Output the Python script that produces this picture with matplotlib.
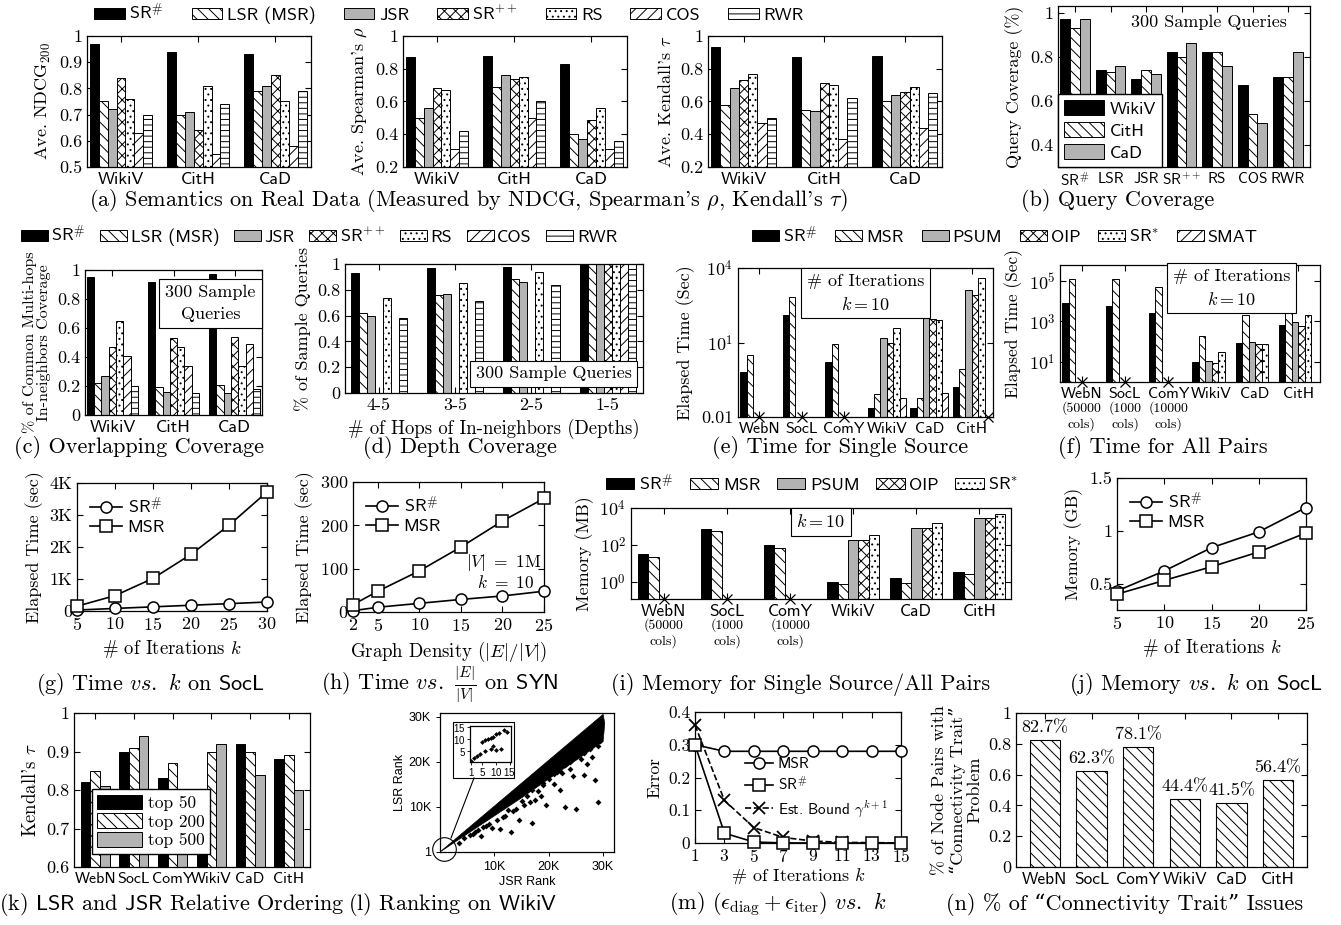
import numpy as np
import matplotlib
matplotlib.use('Agg')
import matplotlib.pyplot as plt
from matplotlib.patches import Patch, Rectangle
from matplotlib.lines import Line2D
from matplotlib.ticker import FuncFormatter, NullLocator

plt.rcParams['font.family'] = ['cmr10', 'DejaVu Serif']
plt.rcParams['mathtext.fontset'] = 'cm'
plt.rcParams['axes.formatter.use_mathtext'] = True
plt.rcParams['axes.unicode_minus'] = False
plt.rcParams['hatch.linewidth'] = 0.7
plt.rcParams['axes.linewidth'] = 0.9

SANS = 'cmss10'
GRAY = '#b3b3b3'

# ---------------- data ----------------
methods7 = [r'$\mathsf{SR}^{\#}$', 'LSR (MSR)', 'JSR', r'$\mathsf{SR}^{++}$', 'RS', 'COS', 'RWR']
real_graphs = ['WikiV', 'CitH', 'CaD']

# rows: SR#, LSR, JSR, SR++, RS, COS, RWR   cols: WikiV, CitH, CaD
ndcg = [[0.97, 0.94, 0.93], [0.75, 0.70, 0.79], [0.72, 0.71, 0.81], [0.84, 0.64, 0.85],
        [0.76, 0.81, 0.75], [0.63, 0.55, 0.58], [0.70, 0.74, 0.79]]
spearman = [[0.87, 0.88, 0.83], [0.50, 0.69, 0.40], [0.56, 0.76, 0.37], [0.68, 0.74, 0.49],
            [0.67, 0.75, 0.56], [0.31, 0.50, 0.31], [0.42, 0.60, 0.36]]
kendall = [[0.93, 0.87, 0.88], [0.58, 0.55, 0.60], [0.68, 0.54, 0.64], [0.73, 0.71, 0.66],
           [0.77, 0.70, 0.69], [0.47, 0.37, 0.44], [0.50, 0.62, 0.65]]

query_methods = [r'$\mathsf{SR}^{\#}$', 'LSR', 'JSR', r'$\mathsf{SR}^{++}$', 'RS', 'COS', 'RWR']
query_graphs = ['WikiV', 'CitH', 'CaD']
query_cov = [[0.97, 0.74, 0.70, 0.82, 0.82, 0.67, 0.71],
             [0.93, 0.73, 0.74, 0.80, 0.82, 0.54, 0.71],
             [0.97, 0.76, 0.72, 0.86, 0.76, 0.50, 0.82]]

overlap = [[0.95, 0.92, 0.97], [0.22, 0.19, 0.21], [0.27, 0.16, 0.15], [0.47, 0.53, 0.54],
           [0.65, 0.47, 0.34], [0.41, 0.34, 0.49], [0.20, 0.15, 0.18]]

depths = ['4-5', '3-5', '2-5', '1-5']
depth_cov = [[0.93, 0.97, 0.98, 1.0], [0.62, 0.76, 0.88, 1.0], [0.60, 0.77, 0.86, 1.0],
             [0.0, 0.0, 0.0, 1.0], [0.74, 0.85, 0.94, 1.0], [0.0, 0.0, 0.0, 1.0],
             [0.58, 0.71, 0.84, 1.0]]

nan = np.nan
algos6 = [r'$\mathsf{SR}^{\#}$', 'MSR', 'PSUM', 'OIP', r'$\mathsf{SR}^{*}$', 'SMAT']
all_graphs = ['WebN', 'SocL', 'ComY', 'WikiV', 'CaD', 'CitH']
col_notes = ['(50000\ncols)', '(1000\ncols)', '(10000\ncols)']
# rows: SR#, MSR, PSUM, OIP, SR*, SMAT   (nan = not finished, marked with x)
single_time = [[0.62, 130, 1.6, 0.023, 0.023, 0.16],
               [3.2, 690, 8.7, 0.085, 0.06, 0.85],
               [nan, nan, nan, 15, 120, 1300],
               [nan, nan, nan, 10, 90, 800],
               [nan, nan, nan, 40, 80, 4000],
               [nan, nan, nan, 0.06, 0.093, nan]]
pairs_time = [[8000, 5600, 2500, 10, 90, 700],
              [1.3e5, 1.3e5, 5e4, 200, 2000, 1.6e4],
              [nan, nan, nan, 11, 100, 900],
              [nan, nan, nan, 9, 80, 600],
              [nan, nan, nan, 30, 75, 2000],
              [nan, nan, nan, nan, nan, nan]]
memory = [[34, 700, 100, 1.0, 1.6, 3.6],
          [22, 540, 66, 0.75, 0.9, 2.7],
          [nan, nan, nan, 175, 800, 2700],
          [nan, nan, nan, 175, 850, 2700],
          [nan, nan, nan, 340, 1600, 5000]]

iters_g = [5, 10, 15, 20, 25, 30]
time_k_sr = [30, 80, 130, 180, 230, 280]
time_k_msr = [150, 480, 1020, 1770, 2680, 3720]

density = [2, 5, 10, 15, 20, 25]
time_d_sr = [3, 11, 20, 29, 37, 48]
time_d_msr = [17, 48, 95, 150, 210, 262]

iters_j = [5, 10, 15, 20, 25]
mem_k_sr = [0.43, 0.62, 0.84, 0.99, 1.22]
mem_k_msr = [0.40, 0.53, 0.66, 0.80, 0.98]

tops = ['top 50', 'top 200', 'top 500']
rel_order = [[0.82, 0.90, 0.83, 0.77, 0.92, 0.88],
             [0.85, 0.91, 0.87, 0.90, 0.90, 0.89],
             [0.81, 0.94, 0.79, 0.92, 0.84, 0.80]]

# ranking scatter on WikiV: dense band along the diagonal + scattered pairs
band_jsr = [1, 5000, 10000, 15000, 20000, 25000, 30000, 30300, 30000, 1]
band_lsr = [1, 4000, 8000, 12000, 16200, 20300, 24500, 28500, 30500, 1]
out_jsr = [3500, 4500, 5500, 6000, 7000, 7500, 8000, 9000, 9500, 10500, 11000, 12000, 12500,
           13000, 14000, 14500, 15500, 16000, 17000, 17500, 18000, 19000, 19500, 20000, 21000,
           22000, 22500, 23000, 24000, 24500, 25000, 26000, 26500, 27000, 27500, 28500, 29000,
           29500, 6500, 8500, 11500, 13500, 16500, 18500, 15000, 17000, 19000, 21000, 22000,
           23000, 24000, 25500, 26500, 27500, 28000, 29000, 18000, 20500, 23500, 21500]
out_lsr = [2000, 3200, 3800, 4000, 4800, 3600, 5500, 6200, 5400, 7000, 5200, 8000, 9200,
           4500, 9500, 7200, 10500, 12500, 6500, 11500, 13500, 14800, 10500, 16200, 15000,
           13800, 17500, 10000, 18500, 16800, 9500, 20500, 17000, 19500, 23000, 16000, 11000,
           24500, 4400, 5800, 7800, 9000, 11000, 12300, 11200, 13800, 15200, 17200, 18000,
           19200, 20000, 21500, 22000, 22800, 21000, 23500, 16500, 18800, 21000, 17800]
inset_jsr = [1, 2, 3, 4, 5, 6, 7, 8, 9, 10, 11, 13, 14, 6, 8, 9, 10, 12]
inset_lsr = [1, 2, 3, 4, 9, 9.5, 10, 10.5, 11, 12, 12.5, 14, 13, 5, 6, 7, 5.5, 6]

iters_m = [1, 3, 5, 7, 9, 11, 13, 15]
err_msr = [0.30, 0.28, 0.28, 0.28, 0.28, 0.28, 0.28, 0.28]
err_sr = [0.30, 0.03, 0.003, 0.0003, 0.0, 0.0, 0.0, 0.0]
err_bound = [0.36, 0.13, 0.047, 0.017, 0.006, 0.002, 0.001, 0.0003]

trait = [0.827, 0.623, 0.781, 0.444, 0.415, 0.564]

# ---------------- styles ----------------
ST7 = [('black', None), ('white', '\\\\\\'), (GRAY, None), ('white', 'xxx'),
       ('white', '...'), ('white', '///'), ('white', '---')]
ST6 = ST7[:6]
ST3 = [('black', None), ('white', '\\\\\\'), (GRAY, None)]

W, H = 1341, 925
fig = plt.figure(figsize=(W / 100, H / 100), dpi=100)
fig.patch.set_facecolor('white')

TICK = 13
CAP = 16


def add_ax(l, t, r, b):
    return fig.add_axes([l / W, 1 - b / H, (r - l) / W, (b - t) / H])


def frame(ax, fs=TICK):
    ax.tick_params(which='both', direction='in', top=True, right=True,
                   length=4, width=0.8, labelsize=fs)


def plain(ax):
    ax.yaxis.set_major_formatter(FuncFormatter(lambda v, _: '%g' % v))


def grouped_bars(ax, rows, styles, bw, base=0.0, cross=False, cross_single=True):
    rows = np.array(rows, dtype=float)
    nser, ngrp = rows.shape
    for s in range(nser):
        xs = np.arange(ngrp) + (s - (nser - 1) / 2) * bw
        ok = ~np.isnan(rows[s])
        fc, hatch = styles[s]
        ax.bar(xs[ok], rows[s][ok] - base, bw, bottom=base, facecolor=fc, hatch=hatch,
               edgecolor='black', linewidth=0.7, zorder=2)
    if cross:
        for g in range(ngrp):
            miss = np.where(np.isnan(rows[:, g]))[0]
            if len(miss) > 1:
                xm = g
            elif len(miss) == 1 and cross_single:
                xm = g + (miss[0] - (nser - 1) / 2) * bw
            else:
                continue
            ax.plot([xm], [base], 'x', color='black', ms=7, mew=0.9, clip_on=False, zorder=5)


def cat_ticks(ax, labels, fs=12):
    # call after frame(): tick_params would reset the label size
    ax.set_xticks(range(len(labels)))
    ax.set_xticklabels(labels, fontfamily=SANS, fontsize=fs)


def col_note(ax):
    for gi, note in enumerate(col_notes):
        ax.annotate(note, xy=(gi, 0), xycoords=('data', 'axes fraction'), xytext=(0, -14),
                    textcoords='offset points', ha='center', va='top', fontsize=10, linespacing=1.25)


def handles(styles):
    return [Patch(facecolor=fc, edgecolor='black', hatch=h, linewidth=0.7) for fc, h in styles]


def caption(x, y, s, fs=CAP):
    fig.text(x / W, 1 - y / H, s, ha='center', va='center', fontsize=fs)


boxprops = dict(boxstyle='square,pad=0.3', fc='white', ec='black', lw=0.8)
leg_font = {'family': SANS, 'size': 13}

# ---------------- row 1 ----------------
fig.legend(handles(ST7), methods7, loc='center', bbox_to_anchor=(449 / W, 1 - 13 / H), ncol=7,
           frameon=False, prop=leg_font, handlelength=1.7, handleheight=0.55,
           handletextpad=0.25, columnspacing=1.55, borderpad=0, borderaxespad=0)

for (l, r), vals, ylab, lo in [((87, 311), ndcg, r'Ave. NDCG$_{200}$', 0.5),
                               ((403, 627), spearman, r"Ave. Spearman's $\rho$", 0.2),
                               ((708, 942), kendall, r"Ave. Kendall's $\tau$", 0.2)]:
    ax = add_ax(l, 36, r, 167)
    grouped_bars(ax, vals, ST7, 0.115)
    ax.set_xlim(-0.44, 2.46)
    ax.set_ylim(lo, 1.0)
    ax.set_yticks(np.arange(lo, 1.001, 0.1 if lo == 0.5 else 0.2))
    plain(ax)
    frame(ax)
    cat_ticks(ax, real_graphs, fs=13)
    ax.set_ylabel(ylab, fontsize=13)

ax = add_ax(1058, 6, 1310, 167)
grouped_bars(ax, query_cov, ST3, 0.28)
ax.set_xlim(-0.48, 6.62)
ax.set_ylim(0.3, 1.03)
ax.set_yticks([0.4, 0.6, 0.8, 1.0])
plain(ax)
frame(ax)
cat_ticks(ax, query_methods, fs=11)
ax.set_ylabel('Query Coverage (%)', fontsize=13)
ax.text(0.6, 0.9, '300 Sample Queries', transform=ax.transAxes, ha='center', va='center', fontsize=13)
ax.legend(handles(ST3), query_graphs, loc='lower left', prop=leg_font,
          fancybox=False, edgecolor='black', framealpha=1, borderaxespad=0.0,
          handlelength=2.2, handleheight=0.85, handletextpad=0.3, borderpad=0.35, labelspacing=0.3)

caption(468, 200, r"(a) Semantics on Real Data (Measured by NDCG, Spearman's $\rho$, Kendall's $\tau$)")
caption(1118, 200, '(b) Query Coverage')

# ---------------- row 2 ----------------
fig.legend(handles(ST7), methods7, loc='center', bbox_to_anchor=(319 / W, 1 - 235 / H), ncol=7,
           frameon=False, prop=leg_font, handlelength=1.5, handleheight=0.55,
           handletextpad=0.2, columnspacing=0.8, borderpad=0, borderaxespad=0)
fig.legend(handles(ST6), algos6, loc='center', bbox_to_anchor=(1005 / W, 1 - 235 / H), ncol=6,
           frameon=False, prop=leg_font, handlelength=1.5, handleheight=0.55,
           handletextpad=0.2, columnspacing=1.0, borderpad=0, borderaxespad=0)

ax = add_ax(85, 270, 262, 415)
grouped_bars(ax, overlap, ST7, 0.12)
ax.set_xlim(-0.45, 2.45)
ax.set_ylim(0, 1)
ax.set_yticks(np.arange(0, 1.01, 0.2))
plain(ax)
frame(ax)
cat_ticks(ax, real_graphs, fs=13)
ax.set_ylabel('% of Common Multi-hops\nIn-neighbors Coverage', fontsize=11.5, linespacing=1.0)
ax.text(0.71, 0.77, '300 Sample\nQueries', transform=ax.transAxes, ha='center', va='center',
        fontsize=13, linespacing=1.5, bbox=dict(boxstyle='square,pad=0.35', fc='white', ec='black', lw=0.8),
        zorder=6)

ax = add_ax(345, 264, 643, 393)
grouped_bars(ax, depth_cov, ST7, 0.105)
ax.set_xlim(-0.44, 3.46)
ax.set_ylim(0, 1)
ax.set_yticks(np.arange(0, 1.01, 0.2))
plain(ax)
ax.set_xticks(range(len(depths)))
ax.set_xticklabels(depths)
frame(ax)
ax.set_ylabel('% of Sample Queries', fontsize=13)
ax.set_xlabel('# of Hops of In-neighbors (Depths)', fontsize=13.5, labelpad=4)
ax.text(0.70, 0.15, '300 Sample Queries', transform=ax.transAxes, ha='center', va='center',
        fontsize=13, bbox=boxprops, zorder=6)

ax = add_ax(738, 268, 993, 417)
ax.set_yscale('log')
grouped_bars(ax, single_time, ST6, 0.15, base=0.01, cross=True)
ax.set_xlim(-0.5, 5.5)
ax.set_ylim(0.01, 1e4)
ax.set_yticks([0.01, 10, 1e4])
ax.set_yticklabels(['0.01', '$10^{1}$', '$10^{4}$'])
ax.yaxis.set_minor_locator(NullLocator())
frame(ax)
cat_ticks(ax, all_graphs, fs=11.5)
ax.set_ylabel('Elapsed Time (Sec)', fontsize=13)
ax.text(0.50, 0.83, '# of Iterations\n$k = 10$', transform=ax.transAxes, ha='center', va='center',
        fontsize=13, linespacing=1.5, bbox=boxprops, zorder=6)

ax = add_ax(1060, 265, 1320, 382)
ax.set_yscale('log')
grouped_bars(ax, pairs_time, ST6, 0.15, base=1, cross=True, cross_single=False)
ax.set_xlim(-0.5, 5.5)
ax.set_ylim(1, 10 ** 5.8)
ax.set_yticks([10, 1e3, 1e5])
ax.set_yticklabels(['$10^{1}$', '$10^{3}$', '$10^{5}$'])
ax.yaxis.set_minor_locator(NullLocator())
frame(ax)
cat_ticks(ax, all_graphs, fs=11.5)
col_note(ax)
ax.set_ylabel('Elapsed Time (Sec)', fontsize=12.5)
ax.text(0.66, 0.8, '# of Iterations\n$k = 10$', transform=ax.transAxes, ha='center', va='center',
        fontsize=13, linespacing=1.5, bbox=boxprops, zorder=6)

caption(139, 448, '(c) Overlapping Coverage')
caption(460, 448, '(d) Depth Coverage')
caption(840, 448, '(e) Time for Single Source')
caption(1163, 448, '(f) Time for All Pairs')

# ---------------- row 3 ----------------
line_leg = dict(loc='upper left', frameon=False, prop=leg_font,
                handlelength=1.8, handletextpad=0.3, labelspacing=0.2, borderaxespad=0.3)
mk = dict(color='black', lw=1.2, ms=8, mfc='white', mew=1.1, clip_on=False, zorder=4)

ax = add_ax(77, 483, 267, 611)
ax.plot(iters_g, time_k_sr, marker='o', label=r'$\mathsf{SR}^{\#}$', **mk)
ax.plot(iters_g, time_k_msr, marker='s', label='MSR', **mk)
ax.set_xlim(5, 30)
ax.set_ylim(0, 4000)
ax.set_xticks(iters_g)
ax.set_yticks([0, 1000, 2000, 3000, 4000])
ax.set_yticklabels(['0', '1K', '2K', '3K', '4K'])
frame(ax)
ax.legend(**line_leg)
ax.set_ylabel('Elapsed Time (sec)', fontsize=13)
ax.set_xlabel(r'# of Iterations $k$', fontsize=13.5)

ax = add_ax(353, 482, 544, 612)
ax.plot(density, time_d_sr, marker='o', label=r'$\mathsf{SR}^{\#}$', **mk)
ax.plot(density, time_d_msr, marker='s', label='MSR', **mk)
ax.set_xlim(2, 25)
ax.set_ylim(0, 300)
ax.set_xticks(density)
ax.set_yticks([0, 100, 200, 300])
frame(ax)
ax.legend(**line_leg)
ax.text(0.985, 0.38, r'$|V|\ =\ 1\mathrm{M}$', transform=ax.transAxes, ha='right', va='center', fontsize=12.5)
ax.text(0.95, 0.23, r'$k\ =\ 10$', transform=ax.transAxes, ha='right', va='center', fontsize=12.5)
ax.set_ylabel('Elapsed Time (sec)', fontsize=13)
ax.set_xlabel(r'Graph Density ($|E|/|V|$)', fontsize=13.5)

fig.legend(handles(ST6[:5]), algos6[:5], loc='center', bbox_to_anchor=(812 / W, 1 - 483 / H), ncol=5,
           frameon=False, prop=leg_font, handlelength=1.6, handleheight=0.55,
           handletextpad=0.25, columnspacing=0.9, borderpad=0, borderaxespad=0)

ax = add_ax(631, 508, 1011, 599)
ax.set_yscale('log')
mem_lo = 10 ** -0.93
grouped_bars(ax, memory, ST6[:5], 0.165, base=mem_lo, cross=True)
ax.set_xlim(-0.52, 5.5)
ax.set_ylim(mem_lo, 1e4)
ax.set_yticks([1, 100, 1e4])
ax.set_yticklabels(['$10^{0}$', '$10^{2}$', '$10^{4}$'])
ax.yaxis.set_minor_locator(NullLocator())
frame(ax)
cat_ticks(ax, all_graphs, fs=12.5)
col_note(ax)
ax.set_ylabel('Memory (MB)', fontsize=13)
ax.text(0.50, 0.85, '$k = 10$', transform=ax.transAxes, ha='center', va='center',
        fontsize=13, bbox=boxprops, zorder=6)

ax = add_ax(1117, 478, 1306, 610)
ax.plot(iters_j, mem_k_sr, marker='o', label=r'$\mathsf{SR}^{\#}$', **mk)
ax.plot(iters_j, mem_k_msr, marker='s', label='MSR', **mk)
ax.set_xlim(5, 25)
ax.set_ylim(0.25, 1.5)
ax.set_xticks(iters_j)
ax.set_yticks([0.5, 1.0, 1.5])
plain(ax)
frame(ax)
ax.legend(**line_leg)
ax.set_ylabel('Memory (GB)', fontsize=13)
ax.set_xlabel(r'# of Iterations $k$', fontsize=13.5)

caption(150, 684, r'(g) Time $\mathit{vs.}$ $k$ on $\mathsf{SocL}$')
caption(440, 684, r'(h) Time $\mathit{vs.}$ $\frac{|E|}{|V|}$ on $\mathsf{SYN}$')
caption(801, 684, '(i) Memory for Single Source/All Pairs')
caption(1196, 684, r'(j) Memory $\mathit{vs.}$ $k$ on $\mathsf{SocL}$')

# ---------------- row 4 ----------------
ax = add_ax(74, 713, 310, 867)
grouped_bars(ax, rel_order, ST3, 0.25)
ax.set_xlim(-0.55, 5.55)
ax.set_ylim(0.6, 1.0)
ax.set_yticks([0.6, 0.7, 0.8, 0.9, 1.0])
plain(ax)
frame(ax)
cat_ticks(ax, all_graphs, fs=11.5)
ax.set_ylabel(r"Kendall's $\tau$", fontsize=13.5)
ax.legend(handles(ST3), tops, loc='lower left', bbox_to_anchor=(0.04, 0.03), prop={'size': 12.5},
          fancybox=False, edgecolor='black', framealpha=1, handlelength=2.6, handleheight=0.9,
          handletextpad=0.3, borderpad=0.3, labelspacing=0.15)

ax = add_ax(440, 713, 614, 852)
ax.fill(band_jsr, band_lsr, color='black', lw=0.5, zorder=2)
ax.scatter(out_jsr, out_lsr, s=9, marker='D', color='black', lw=0, zorder=2)
ax.set_xlim(1, 32000)
ax.set_ylim(1, 30800)
ax.set_xticks([10000, 20000, 30000])
ax.set_xticklabels(['10K', '20K', '30K'], fontfamily='Liberation Sans', fontsize=9)
ax.set_yticks([1, 10000, 20000, 30000])
ax.set_yticklabels(['1', '10K', '20K', '30K'], fontfamily='Liberation Sans', fontsize=9)
ax.tick_params(direction='out', length=3, width=0.7)
ax.set_xlabel('JSR Rank', fontfamily='Liberation Sans', fontsize=9, labelpad=2)
ax.set_ylabel('LSR Rank', fontfamily='Liberation Sans', fontsize=9, labelpad=2)
ax.plot([700], [700], 'o', ms=17, mfc='none', mec='black', mew=0.8, clip_on=False, zorder=5)
fig.add_artist(Line2D([451 / W, 474 / W], [1 - 838 / H, 1 - 778 / H], color='black', lw=0.8))
axin = add_ax(470, 726, 511, 762)
axin.scatter(inset_jsr, inset_lsr, s=6, marker='D', color='black', lw=0)
axin.set_xlim(0.5, 15.5)
axin.set_ylim(0.5, 15.5)
axin.set_xticks([1, 5, 10, 15])
axin.set_yticks([5, 10, 15])
axin.tick_params(direction='out', length=2, width=0.6, labelsize=7, pad=1)
for t in axin.get_xticklabels() + axin.get_yticklabels():
    t.set_fontfamily('Liberation Sans')
fig.patches.append(Rectangle((453 / W, 1 - 778 / H), 61 / W, 56 / H, transform=fig.transFigure,
                             fill=False, ec='black', lw=0.8))

ax = add_ax(695, 712, 901, 843)
ax.plot(iters_m, err_msr, marker='o', label='MSR', **mk)
ax.plot(iters_m, err_sr, marker='s', label=r'$\mathsf{SR}^{\#}$', **mk)
ax.plot(iters_m, err_bound, marker='x', ls='--', label=r'Est. Bound $\gamma^{k+1}$',
        color='black', lw=1.2, ms=8, mew=1.3, clip_on=False, zorder=3)
ax.set_xlim(1, 15)
ax.set_ylim(0, 0.4)
ax.set_xticks(iters_m)
ax.set_yticks([0, 0.1, 0.2, 0.3, 0.4])
plain(ax)
frame(ax, fs=12.5)
ax.legend(loc='center right', bbox_to_anchor=(1.0, 0.42), frameon=False,
          prop={'family': SANS, 'size': 11}, handlelength=1.8, handletextpad=0.3, labelspacing=0.3)
ax.set_ylabel('Error', fontsize=12.5)
ax.set_xlabel(r'# of Iterations $k$', fontsize=13, labelpad=1)

ax = add_ax(1016, 713, 1307, 867)
xs = np.arange(len(trait))
ax.bar(xs, trait, 0.65, facecolor='white', hatch='\\\\\\', edgecolor='black', linewidth=0.8, zorder=2)
for xi, v in zip(xs, trait):
    ax.text(xi, v + 0.03, '%.1f%%' % (v * 100), ha='center', va='bottom', fontsize=13)
ax.set_xlim(-0.62, 5.62)
ax.set_ylim(0, 1)
ax.set_yticks(np.arange(0, 1.01, 0.2))
plain(ax)
frame(ax)
cat_ticks(ax, all_graphs, fs=12.5)
ax.set_ylabel('% of Node Pairs with\n“Connectivity Trait”\nProblem', fontsize=13, linespacing=1.1)

caption(172, 904, r'(k) $\mathsf{LSR}$ and $\mathsf{JSR}$ Relative Ordering')
caption(452, 904, r'(l) Ranking on $\mathsf{WikiV}$')
caption(778, 904, r'(m) $(\epsilon_{\mathrm{diag}} + \epsilon_{\mathrm{iter}})$ $\mathit{vs.}$ $k$')
caption(1125, 904, '(n) % of “Connectivity Trait” Issues')

fig.savefig('out.png', dpi=100)
